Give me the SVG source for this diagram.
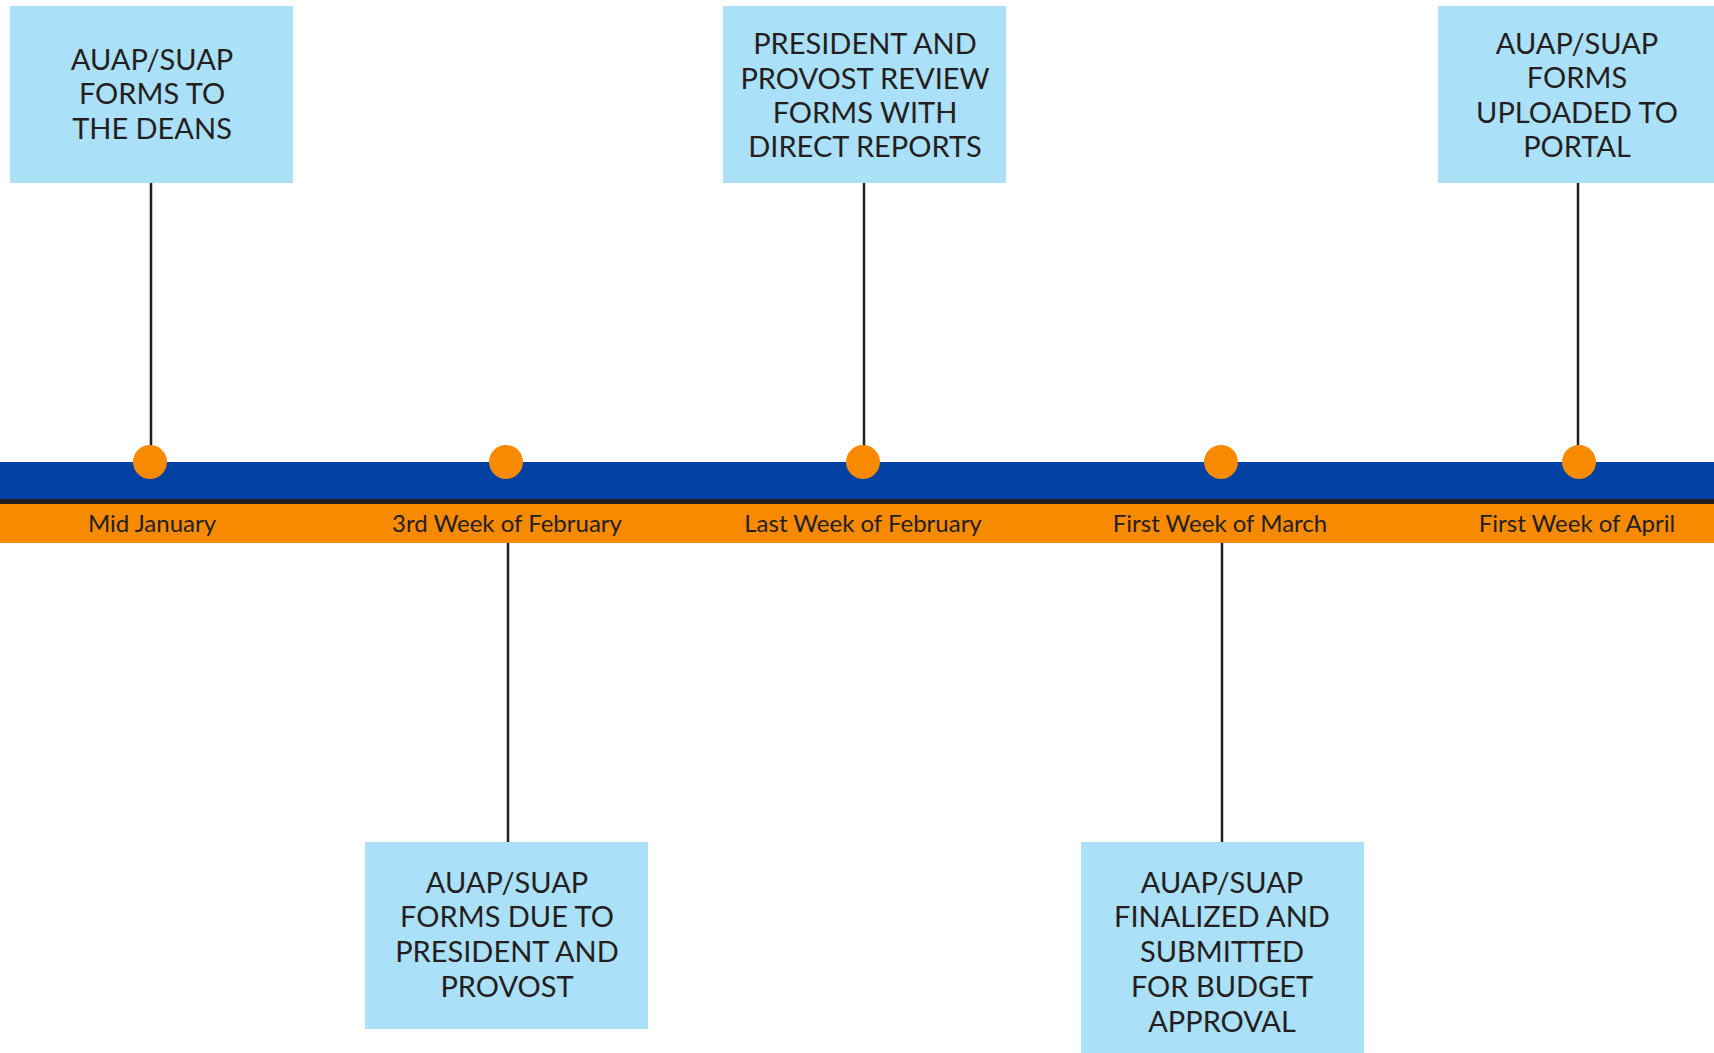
<svg xmlns="http://www.w3.org/2000/svg" width="1714" height="1053" viewBox="0 0 1714 1053">
<style>
.box{fill:#abe0f9}
.bt{font-family:Lato,"Open Sans",sans-serif;font-size:29px;fill:#231f20;text-anchor:middle}
.lbl{font-family:Lato,"Open Sans",sans-serif;font-size:24px;fill:#231f20;text-anchor:middle}
.conn{stroke:#231f20;stroke-width:2.5;fill:none}
.dot{fill:#f88a00}
</style>
<rect width="1714" height="1053" fill="#ffffff"/>
<g id="timeline">
<rect x="0" y="462" width="1714" height="37" fill="#0041a3"/>
<rect x="0" y="499" width="1714" height="5" fill="#231f20"/>
<rect x="0" y="504" width="1714" height="39" fill="#f88a00"/>
<text class="lbl" x="152" y="532">Mid January</text>
<text class="lbl" x="507" y="532">3rd Week of February</text>
<text class="lbl" x="863" y="532">Last Week of February</text>
<text class="lbl" x="1220" y="532">First Week of March</text>
<text class="lbl" x="1577" y="532">First Week of April</text>
</g>
<g id="connectors">
<line class="conn" x1="151" y1="183" x2="151" y2="450"/>
<line class="conn" x1="864" y1="183" x2="864" y2="450"/>
<line class="conn" x1="1578" y1="183" x2="1578" y2="450"/>
<line class="conn" x1="508" y1="543" x2="508" y2="842"/>
<line class="conn" x1="1222" y1="543" x2="1222" y2="842"/>
</g>
<g id="dots">
<circle class="dot" cx="150" cy="462" r="17"/>
<circle class="dot" cx="506" cy="462" r="17"/>
<circle class="dot" cx="863" cy="462" r="17"/>
<circle class="dot" cx="1221" cy="462" r="17"/>
<circle class="dot" cx="1579" cy="462" r="17"/>
</g>
<g id="node1">
<rect class="box" x="10" y="6" width="283" height="177"/>
<text class="bt" x="152" y="70">AUAP/SUAP</text>
<text class="bt" x="152" y="104">FORMS TO</text>
<text class="bt" x="152" y="139">THE DEANS</text>
</g>
<g id="node2">
<rect class="box" x="365" y="842" width="283" height="187"/>
<text class="bt" x="507" y="893">AUAP/SUAP</text>
<text class="bt" x="507" y="927">FORMS DUE TO</text>
<text class="bt" x="507" y="962">PRESIDENT AND</text>
<text class="bt" x="507" y="997">PROVOST</text>
</g>
<g id="node3">
<rect class="box" x="723" y="6" width="283" height="177"/>
<text class="bt" x="865" y="54">PRESIDENT AND</text>
<text class="bt" x="865" y="89">PROVOST REVIEW</text>
<text class="bt" x="865" y="123">FORMS WITH</text>
<text class="bt" x="865" y="157">DIRECT REPORTS</text>
</g>
<g id="node4">
<rect class="box" x="1081" y="842" width="283" height="211"/>
<text class="bt" x="1222" y="893">AUAP/SUAP</text>
<text class="bt" x="1222" y="927">FINALIZED AND</text>
<text class="bt" x="1222" y="962">SUBMITTED</text>
<text class="bt" x="1222" y="997">FOR BUDGET</text>
<text class="bt" x="1222" y="1032">APPROVAL</text>
</g>
<g id="node5">
<rect class="box" x="1438" y="6" width="276" height="177"/>
<text class="bt" x="1577" y="54">AUAP/SUAP</text>
<text class="bt" x="1577" y="88">FORMS</text>
<text class="bt" x="1577" y="123">UPLOADED TO</text>
<text class="bt" x="1577" y="157">PORTAL</text>
</g>
</svg>
